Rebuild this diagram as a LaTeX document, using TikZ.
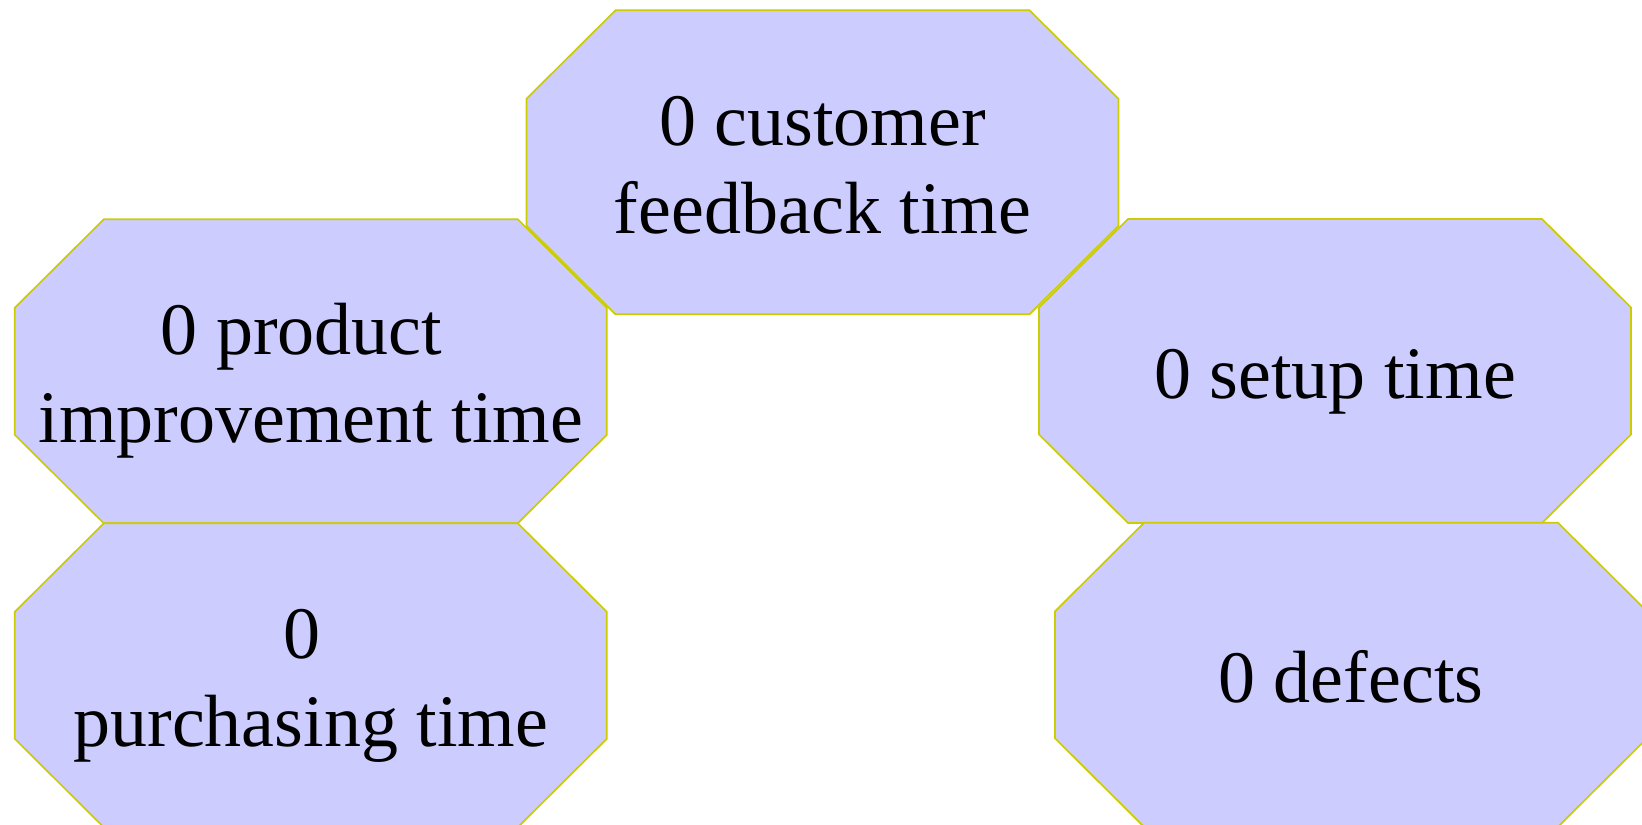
\documentclass[tikz,border=0pt]{standalone}
\usepackage{fontspec}
\setmainfont{Liberation Serif}
\definecolor{boxfill}{RGB}{204,204,255}
\definecolor{boxline}{RGB}{204,204,0}

% chamfered outline around a named (empty) box node
\newcommand\octoborder[1]{%
  \path[octo] ([xshift=89pt]#1.north west) -- ([xshift=-89pt]#1.north east)
    -- ([yshift=-88.5pt]#1.north east) -- ([yshift=88.5pt]#1.south east)
    -- ([xshift=-89pt]#1.south east) -- ([xshift=89pt]#1.south west)
    -- ([yshift=88.5pt]#1.south west) -- ([yshift=-88.5pt]#1.north west) -- cycle;}

\begin{document}
\begin{tikzpicture}[x=1pt,y=-1pt,
  box/.style={rectangle, minimum width=592pt, minimum height=304pt,
              inner sep=0pt, outer sep=0pt},
  octo/.style={fill=boxfill, draw=boxline, line width=1.7pt, line join=miter},
  lbl/.style={anchor=base, inner sep=0pt, font=\fontsize{74}{88}\selectfont}]
\clip (0,0) rectangle (1642,825);
\fill[white] (0,0) rectangle (1642,825);

% product improvement
\node[box] (prod) at (310.8,371.3) {};
\octoborder{prod}
\node[lbl] (prod-1) at ([xshift=-9.2pt,yshift=16.5pt]prod.center) {0 product};
\node[lbl] (prod-2) at ([yshift=-71.5pt]prod.center) {improvement time};

% setup
\node[box] (setup) at (1335,371) {};
\octoborder{setup}
\node[lbl] (setup-1) at ([yshift=-27.5pt]setup.center) {0 setup time};

% purchasing
\node[box] (purch) at (310.8,675.3) {};
\octoborder{purch}
\node[lbl] (purch-1) at ([xshift=-9.2pt,yshift=16.5pt]purch.center) {0};
\node[lbl] (purch-2) at ([yshift=-71.5pt]purch.center) {purchasing time};

% defects
\node[box] (def) at (1351,674.8) {};
\octoborder{def}
\node[lbl] (def-1) at ([yshift=-27.5pt]def.center) {0 defects};

% customer feedback
\node[box] (cf) at (822.5,162.3) {};
\octoborder{cf}
\node[lbl] (cf-1) at ([yshift=16.5pt]cf.center) {0 customer};
\node[lbl] (cf-2) at ([yshift=-71.5pt]cf.center) {feedback time};
\end{tikzpicture}
\end{document}
